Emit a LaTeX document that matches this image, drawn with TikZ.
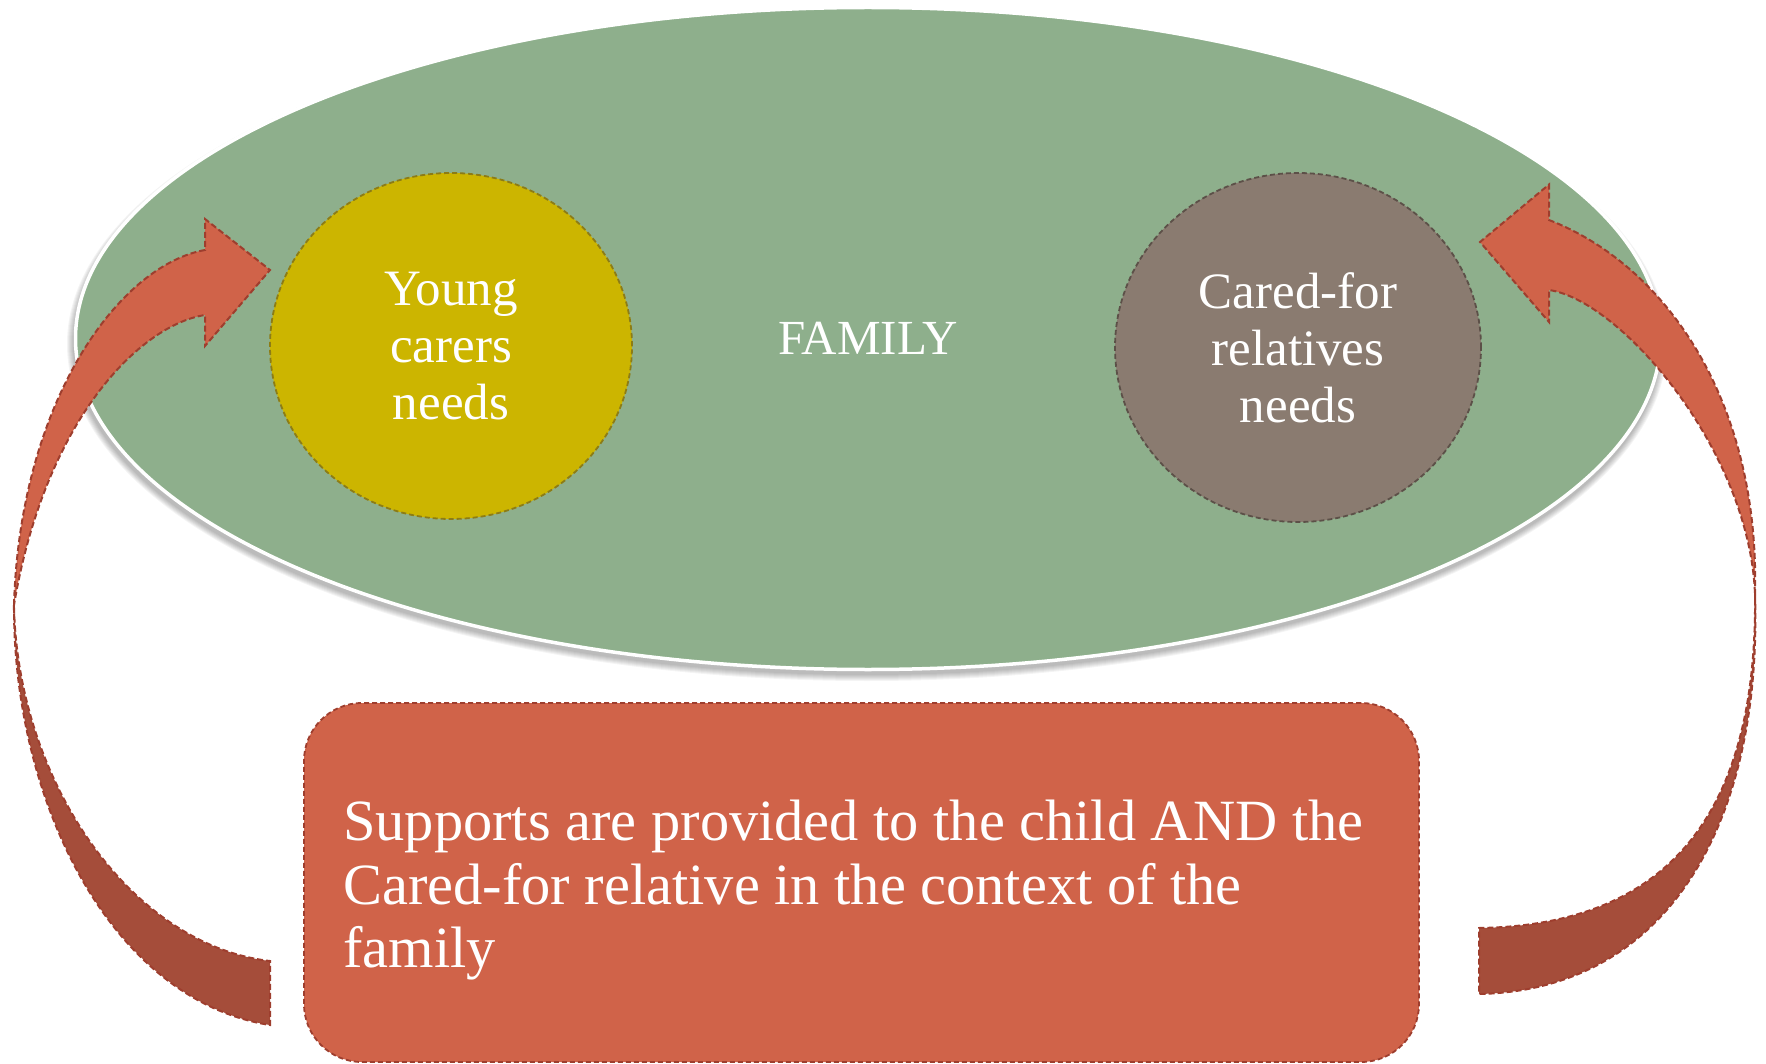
\documentclass[tikz,border=0pt]{standalone}
\usepackage{fontspec}
\setmainfont{Liberation Serif}
\usetikzlibrary{shapes.geometric}
\definecolor{famgreen}{RGB}{142,175,140}
\definecolor{youngyellow}{RGB}{204,181,0}
\definecolor{youngedge}{RGB}{140,124,22}
\definecolor{caredbrown}{RGB}{138,123,112}
\definecolor{carededge}{RGB}{92,80,72}
\definecolor{boxred}{RGB}{208,99,73}
\definecolor{arrowdark}{RGB}{165,77,58}
\definecolor{rededge}{RGB}{158,62,46}
\begin{document}
\begin{tikzpicture}[x=1pt,y=-1pt,
  dashline/.style={line width=1.8pt, dash pattern=on 5pt off 3pt},
  needcircle/.style={ellipse, dashline, text=white, align=center,
    font=\fontsize{51}{57}\selectfont, inner sep=0pt},
  bandlight/.style={fill=boxred, draw=rededge, line width=2pt, dash pattern=on 6pt off 3pt},
  banddark/.style={fill=arrowdark, draw=rededge, line width=2pt, dash pattern=on 6pt off 3pt}]
\useasboundingbox (0,0) rectangle (1766,1064);
% soft shadow of the family ellipse
\foreach \k in {0,...,6}
  \fill[black,opacity=0.045] (867,344) ellipse [x radius={794+\k}, y radius={331+\k}];
% family ellipse
\node[ellipse, fill=famgreen, draw=white, line width=3.5pt, inner sep=0pt,
      minimum width=1585pt, minimum height=662pt, text=white,
      font=\fontsize{49}{56}\selectfont] (family) at (868,338.5) {FAMILY};
% needs circles
\node[needcircle, fill=youngyellow, draw=youngedge,
      minimum width=362pt, minimum height=346pt] (young) at (451,346)
      {Young\\carers\\needs};
\node[needcircle, fill=caredbrown, draw=carededge,
      minimum width=366pt, minimum height=349pt] (cared) at (1298,347.5)
      {Cared-for\\relatives\\needs};
% supports box
\node[rectangle, rounded corners=58pt, fill=boxred, draw=rededge, dashline,
      minimum width=1115pt, minimum height=359pt] (support) at (861.5,882.5) {};
\node[anchor=north west, align=left, text=white, inner sep=0pt,
      font=\fontsize{58.4}{63.5}\selectfont] (supporttext) at (343,800.2)
      {Supports are provided to the child AND the\\Cared-for relative in the context of the\\family};
% left curved arrow
\draw[banddark] (14,605) .. controls (13,800) and (110,1000) .. (270,1025)
  -- (270,961) .. controls (130,945) and (17,780) .. (14,605) -- cycle;
\draw[bandlight] (14,605) .. controls (20,400) and (120,265) .. (205,250)
  -- (205,219) -- (270,270) -- (205,346) -- (205,315)
  .. controls (140,325) and (45,420) .. (14,605) -- cycle;
% right curved arrow
\draw[banddark] (1755,595) .. controls (1762,820) and (1670,990) .. (1479,994)
  -- (1479,928) .. controls (1680,925) and (1757,800) .. (1755,595) -- cycle;
\draw[bandlight] (1755,595) .. controls (1760,400) and (1665,265) .. (1549,220)
  -- (1549,184.5) -- (1480,242) -- (1549,322) -- (1549,290)
  .. controls (1620,300) and (1750,450) .. (1755,595) -- cycle;
\end{tikzpicture}
\end{document}
